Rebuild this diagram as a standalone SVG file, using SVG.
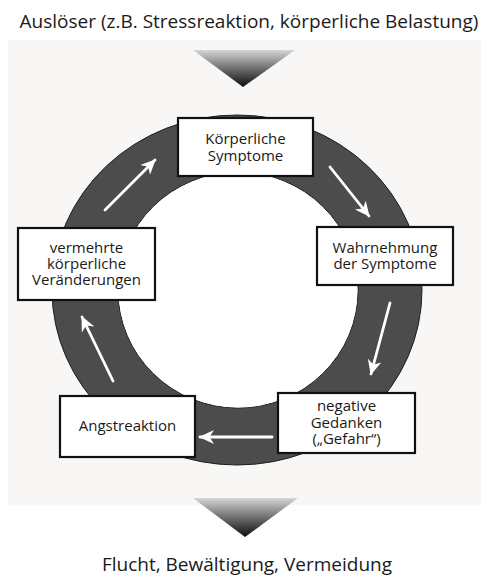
<svg xmlns="http://www.w3.org/2000/svg" width="481" height="577" viewBox="0 0 481 577">
  <defs>
    <style>
      .label { font-family: "Open Sans", "Noto Sans", "DejaVu Sans", sans-serif; fill: #1a1a1a; }
      .box text { font-size: 15px; text-anchor: middle; }
      .box rect { fill: #ffffff; stroke: #111111; stroke-width: 2.2; }
      .flow { stroke: #ffffff; stroke-width: 2.8; fill: none; stroke-linecap: round; marker-end: url(#head); }
      .heading { font-size: 19px; text-anchor: middle; }
    </style>
    <marker id="head" markerUnits="userSpaceOnUse" markerWidth="16" markerHeight="14" refX="14" refY="7" orient="auto">
      <path d="M0,0 L15,7 L0,14 L4.5,7 Z" fill="#ffffff"/>
    </marker>
    <linearGradient id="fade" x1="0" y1="0" x2="0" y2="1">
      <stop offset="0" stop-color="#d6d6d6"/>
      <stop offset="0.5" stop-color="#6e6e6e"/>
      <stop offset="1" stop-color="#0d0d0d"/>
    </linearGradient>
  </defs>

  <!-- page -->
  <rect x="0" y="0" width="481" height="577" fill="#ffffff"/>
  <rect x="8" y="40" width="473" height="465" fill="#f8f7f5"/>

  <!-- header and footer -->
  <text class="label heading" x="249" y="28">Auslöser (z.B. Stressreaktion, körperliche Belastung)</text>
  <polygon points="193,50 295,50 243,87" fill="url(#fade)"/>
  <polygon points="193,498 298,498 245,537" fill="url(#fade)"/>
  <text class="label heading" x="247" y="571">Flucht, Bewältigung, Vermeidung</text>

  <!-- cycle ring -->
  <g id="ring">
    <path d="M52,290 a185,175 0 1,0 370,0 a185,175 0 1,0 -370,0 Z M118,290 a120,118 0 1,1 240,0 a120,118 0 1,1 -240,0 Z"
          fill="#4d4c4c" fill-rule="evenodd" stroke="#1e1e1e" stroke-width="1"/>
    <ellipse cx="238" cy="290" rx="119.5" ry="117.5" fill="#ffffff"/>
  </g>

  <!-- connectors -->
  <g id="connectors">
    <line class="flow" x1="105" y1="210" x2="155" y2="160"/>
    <line class="flow" x1="330" y1="167" x2="369" y2="216"/>
    <line class="flow" x1="390" y1="303" x2="371" y2="374"/>
    <line class="flow" x1="272" y1="437" x2="200" y2="437"/>
    <line class="flow" x1="113" y1="381" x2="82" y2="317"/>
  </g>

  <!-- nodes -->
  <g id="koerperliche-symptome" class="box">
    <rect x="178" y="118" width="135" height="58"/>
    <text class="label" x="245.5" y="144">Körperliche</text>
    <text class="label" x="245.5" y="161">Symptome</text>
  </g>

  <g id="wahrnehmung" class="box">
    <rect x="317" y="227" width="136" height="58"/>
    <text class="label" x="385" y="253">Wahrnehmung</text>
    <text class="label" x="385" y="269">der Symptome</text>
  </g>

  <g id="negative-gedanken" class="box">
    <rect x="278" y="393" width="137" height="60"/>
    <text class="label" x="346.5" y="411">negative</text>
    <text class="label" x="346.5" y="427.5">Gedanken</text>
    <text class="label" x="346.5" y="444">(„Gefahr“)</text>
  </g>

  <g id="angstreaktion" class="box">
    <rect x="60" y="396" width="135" height="61"/>
    <text class="label" x="127.5" y="431">Angstreaktion</text>
  </g>

  <g id="vermehrte-veraenderungen" class="box">
    <rect x="18" y="228" width="137" height="72"/>
    <text class="label" x="86.5" y="253">vermehrte</text>
    <text class="label" x="86.5" y="269">körperliche</text>
    <text class="label" x="86.5" y="285">Veränderungen</text>
  </g>
</svg>
